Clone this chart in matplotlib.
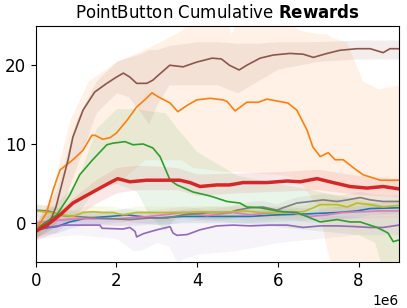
import numpy as np
import matplotlib
matplotlib.use("Agg")
import matplotlib.pyplot as plt

# x values are in millions of steps
brown_x = [0, 0.3, 0.5, 0.65, 0.8, 0.92, 1.17, 1.46, 1.76, 2.0, 2.17, 2.33, 2.5, 2.75, 2.9, 3.03, 3.32, 3.65, 3.99,
           4.37, 4.6, 4.8, 5.04, 5.23, 5.56, 5.89, 6.3, 6.63, 6.88, 7.22, 7.54, 7.96, 8.29, 8.61, 8.78, 9.0]
brown_y = [-1, -0.5, 2, 5, 8, 10.9, 14.3, 16.6, 17.7, 18.5, 19.0, 18.5, 17.7, 17.7, 18.1, 18.7, 20.0, 19.8, 20.4,
           20.9, 20.8, 20.0, 19.4, 20.0, 20.9, 21.3, 21.5, 21.4, 21.0, 21.5, 21.9, 22.1, 22.1, 21.6, 22.1, 22.1]
brown_band_x = [0, 0.5, 1, 1.5, 2, 2.3, 2.6, 2.8, 3, 3.3, 4, 4.5, 5, 5.5, 6, 6.5, 7, 8, 9]
brown_lo = [-2, 0, 7, 14, 16.5, 16, 14, 12.5, 15, 17.5, 17.5, 17.5, 16.5, 18, 19.5, 20, 20.5, 20.8, 20.8]
brown_hi = [0, 4, 13, 18, 20.5, 21, 21.5, 22, 22, 22.5, 23, 23, 22.8, 22.8, 23, 23, 23, 23.2, 23.2]

orange_x = [0, 0.27, 0.43, 0.6, 0.92, 1.17, 1.39, 1.47, 1.66, 1.84, 2.0, 2.26, 2.5, 2.7, 2.88, 3.03, 3.33, 3.52,
            3.75, 3.99, 4.32, 4.64, 4.74, 4.94, 5.23, 5.51, 5.73, 6.25, 6.47, 6.72, 6.87, 7.05, 7.25, 7.42, 7.62,
            7.87, 8.11, 8.54, 9.0]
orange_y = [-0.9, 1.3, 4.2, 6.7, 8.0, 9.2, 11.1, 11.1, 10.6, 10.8, 11.4, 13.0, 14.7, 15.6, 16.5, 16.0, 15.2, 14.1,
            14.9, 15.6, 15.8, 15.6, 15.4, 14.2, 15.3, 15.3, 15.7, 15.2, 14.3, 11.8, 9.6, 8.4, 8.9, 8.0, 8.0,
            7.0, 6.1, 5.4, 5.4]
orange_band_x = [0, 0.35, 0.84, 1.3, 2.0, 2.7, 3.6, 3.9, 4.7, 4.85, 5.0, 6.2, 6.5, 7.0, 7.2, 7.35, 7.7, 8.1, 8.5, 9]
orange_lo = [-2, -1, 2, 4, 5, 8, 8, 7, 6.5, 6.5, 6.5, 6, 5.5, 2, -3, -6, -6, -6, -6, -6]
orange_hi = [0, 3, 13, 18, 20.5, 22, 24.4, 26, 26, 24, 26, 26, 24.5, 24, 24, 23.5, 23, 18, 17, 17.5]

green_x = [0, 0.52, 0.84, 1.09, 1.41, 1.76, 1.91, 2.21, 2.41, 2.66, 2.9, 3.08, 3.33, 3.5, 3.9, 4.32, 4.74, 5.06,
           5.23, 5.56, 5.98, 6.13, 6.47, 7.05, 7.47, 7.79, 8.04, 8.46, 8.73, 8.86, 9.0]
green_y = [-0.8, 1.0, 3.5, 6.1, 8.0, 9.9, 10.1, 10.3, 9.9, 10.0, 9.5, 8.4, 5.4, 4.8, 3.9, 3.4, 2.7, 2.5,
           2.0, 1.9, 1.5, 1.4, 1.3, 0.1, 0.4, 0.1, 0.1, -0.6, -1.3, -2.4, -2.2]
green_band_x = [0, 0.5, 1, 1.5, 2, 2.5, 2.8, 3.2, 3.5, 4, 5, 6, 7, 8, 8.4, 8.6, 9]
green_lo = [-1.8, -0.5, 1, 4.5, 5, 4, 1, -1, 1, 0.5, 0, -0.5, -1, -1.5, -2.5, -6, -6]
green_hi = [0.2, 2.5, 5, 12, 14.5, 14.5, 14.2, 14, 12, 9, 6, 5, 4, 3, 2.5, 2.2, 2]

red_x = [0, 0.35, 0.6, 0.92, 1.27, 1.59, 1.84, 2.03, 2.33, 2.75, 3.15, 3.57, 3.82, 4.07, 4.49, 4.8, 5.14, 5.73,
         6.23, 6.55, 6.97, 7.37, 7.79, 8.21, 8.61, 9.0]
red_y = [-1.1, 0.0, 1.0, 2.5, 3.5, 4.4, 5.1, 5.6, 5.2, 5.4, 5.4, 5.4, 5.1, 4.6, 4.8, 4.8, 5.1, 5.1,
         5.3, 5.2, 5.6, 5.1, 4.6, 4.4, 4.6, 4.3]
red_band_x = [0, 0.5, 1, 1.5, 2, 2.5, 3, 3.5, 4, 5, 6, 7, 8, 9]
red_lo = [-2.2, -1.2, 0.8, 2.5, 3.8, 4.2, 4.2, 4.2, 3.5, 3.8, 4, 4.2, 3.6, 3.3]
red_hi = [0, 1.2, 3.5, 5.5, 7, 7.3, 7.2, 7.0, 6.2, 6.3, 6.5, 6.8, 6.0, 5.6]

olive_x = [0, 0.35, 0.67, 0.92, 1.17, 1.41, 1.66, 1.91, 2.16, 2.5, 2.83, 3.65, 4.07, 4.49, 4.89, 5.23, 5.56,
           5.98, 6.63, 6.88, 7.05, 7.47, 7.72, 7.96, 8.29, 8.61, 9.0]
olive_y = [1.5, 1.3, 1.0, 0.8, 1.3, 1.4, 1.3, 1.3, 1.0, 1.3, 1.3, 1.3, 1.4, 1.3, 1.4, 1.5, 1.3,
           1.3, 1.4, 1.9, 2.3, 2.3, 2.0, 2.5, 2.3, 2.0, 2.2]

gray_x = [0, 0.3, 0.67, 1.0, 1.51, 2.33, 2.83, 3.25, 3.65, 4.32, 4.64, 4.86, 4.99, 5.31, 5.63, 5.98, 6.13, 6.47,
          6.8, 7.12, 7.47, 7.72, 8.04, 8.29, 8.61, 9.0]
gray_y = [1.6, 1.5, 0.9, 0.8, 0.6, 0.4, 0.6, 0.6, 1.0, 1.3, 1.3, 1.4, 1.6, 1.9, 2.0, 1.6, 1.9, 2.5,
          2.7, 2.9, 2.7, 2.9, 3.2, 2.9, 2.7, 2.7]

blue_x = [0, 0.35, 0.52, 0.84, 1.27, 1.84, 2.26, 2.58, 3.0, 3.65, 4.49, 5.31, 5.98, 6.63, 7.47, 7.96, 8.29, 9.0]
blue_y = [-0.9, -0.6, -0.5, 0.1, 0.6, 0.8, 1.0, 0.8, 0.6, 0.8, 0.8, 0.8, 1.0, 1.1, 1.3, 1.5, 1.8, 1.9]

pink_x = [0, 0.5, 1.0, 2.0, 2.83, 3.65, 4.24, 4.89, 5.31, 5.98, 6.3, 6.8, 7.22, 7.62, 8.11, 8.54, 9.0]
pink_y = [0.0, 0.3, 0.5, 0.5, 0.8, 1.3, 0.9, 1.3, 1.0, 1.3, 1.3, 0.8, 1.0, 1.3, 1.4, 1.5, 1.5]

purple_x = [0, 0.27, 0.67, 1.09, 1.59, 1.64, 2.16, 2.33, 2.46, 2.5, 2.66, 3.0, 3.33, 3.4, 3.5, 3.75, 4.07, 4.49,
            4.89, 5.31, 5.81, 6.23, 6.63, 7.05, 7.47, 7.96, 8.29, 8.61, 9.0]
purple_y = [-0.9, -0.6, -0.3, -0.3, -0.3, -0.7, -0.8, -0.6, -1.1, -1.8, -1.4, -0.9, -0.5, -1.3, -1.6, -1.5, -0.9,
            -0.4, -0.3, -0.4, -0.3, -0.3, -0.6, -0.4, -0.4, -0.5, -0.6, -0.6, -0.3]
purple_band_x = [0, 1, 2, 2.4, 2.6, 3, 3.3, 3.5, 3.7, 4, 5, 6, 7, 8, 9]
purple_lo = [-2, -1.5, -2, -3.5, -3.5, -2.5, -3, -5, -4.5, -4, -3.5, -2.5, -2, -1.5, -1.5]
purple_hi = [0.2, 0.7, 0.7, 0.5, 0.3, 0.5, 0.8, 0.2, 0.3, 0.5, 1, 1.2, 1, 0.8, 1]

fig = plt.figure(figsize=(4.07, 3.08), dpi=100)
ax = fig.add_axes([0.088, 0.149, 0.892, 0.767])

M = 1e6


def band(bx, lo, hi, color, a=0.1):
    ax.fill_between(np.array(bx) * M, lo, hi, color=color, alpha=a, linewidth=0)


def small_band(x, y, color, w=0.8):
    y = np.array(y)
    ax.fill_between(np.array(x) * M, y - w, y + w, color=color, alpha=0.1, linewidth=0)


band(orange_band_x, orange_lo, orange_hi, 'tab:orange')
band(brown_band_x, brown_lo, brown_hi, 'tab:brown')
band(green_band_x, green_lo, green_hi, 'tab:green')
band(red_band_x, red_lo, red_hi, 'tab:red')
band(purple_band_x, purple_lo, purple_hi, 'tab:purple', a=0.08)
small_band(blue_x, blue_y, 'tab:blue')
small_band(pink_x, pink_y, 'tab:pink')
small_band(gray_x, gray_y, 'tab:gray')
small_band(olive_x, olive_y, 'tab:olive')

lw = 1.2
ax.plot(np.array(blue_x) * M, blue_y, color='tab:blue', lw=lw)
ax.plot(np.array(purple_x) * M, purple_y, color='tab:purple', lw=lw)
ax.plot(np.array(pink_x) * M, pink_y, color='tab:pink', lw=lw)
ax.plot(np.array(gray_x) * M, gray_y, color='tab:gray', lw=lw)
ax.plot(np.array(olive_x) * M, olive_y, color='tab:olive', lw=lw)
ax.plot(np.array(green_x) * M, green_y, color='tab:green', lw=lw)
ax.plot(np.array(orange_x) * M, orange_y, color='tab:orange', lw=lw)
ax.plot(np.array(brown_x) * M, brown_y, color='tab:brown', lw=lw)
ax.plot(np.array(red_x) * M, red_y, color='tab:red', lw=2.5)

ax.set_xlim(0, 9e6)
ax.set_ylim(-5, 25)
ax.set_xticks([0, 2e6, 4e6, 6e6, 8e6])
ax.set_yticks([0, 10, 20])
ax.tick_params(labelsize=12)
ax.xaxis.get_offset_text().set_fontsize(10)
ax.set_title(r"PointButton Cumulative $\bf{Rewards}$", fontsize=12)

fig.savefig("out.png", dpi=100)
